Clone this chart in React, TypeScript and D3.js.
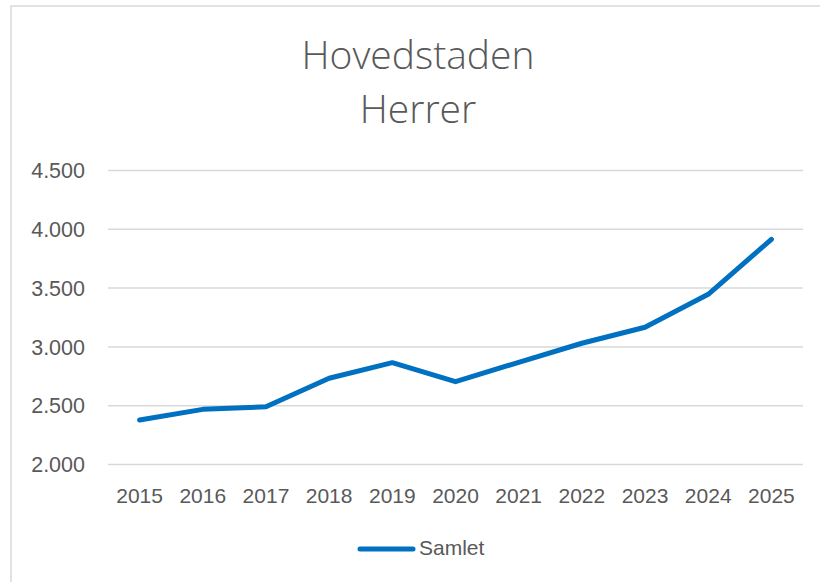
import React from "react";
import * as d3 from "d3";

const years = ["2015", "2016", "2017", "2018", "2019", "2020", "2021", "2022", "2023", "2024", "2025"];
const samlet = [2378, 2469, 2491, 2733, 2866, 2704, 2869, 3031, 3167, 3447, 3915];
const yTicks = [2000, 2500, 3000, 3500, 4000, 4500];
const titleLines = ["Hovedstaden", "Herrer"];
const seriesName = "Samlet";

const W = 820;
const H = 582;
const plot = { left: 108, right: 803, top: 170.5, bottom: 464.5 };

export default function App() {
  const x = d3.scaleBand<string>().domain(years).range([plot.left, plot.right]);
  const y = d3.scaleLinear().domain([2000, 4500]).range([plot.bottom, plot.top]);
  const line = d3
    .line<number>()
    .x((_, i) => (x(years[i]) as number) + x.bandwidth() / 2)
    .y((d) => y(d))
    .curve(d3.curveLinear);
  const fmt = (v: number) => d3.format(",")(v).replace(/,/g, ".");
  const axisFont = "'Liberation Sans', Arial, sans-serif";
  const textColor = "#595959";

  return (
    <div style={{ position: "absolute", left: 0, top: 0 }}>
      <svg width={W} height={H} style={{ display: "block", background: "#fff" }}>
        <rect x={11} y={6} width={W} height={H} fill="#fff" stroke="#d9d9d9" strokeWidth={1.5} />
        {titleLines.map((t, i) => (
          <text
            key={t}
            x={418}
            y={69 + i * 54}
            textAnchor="middle"
            fontFamily="'Open Sans', sans-serif"
            fontWeight={300}
            fontSize={39}
            fill={textColor}
          >
            {t}
          </text>
        ))}
        {yTicks.map((t) => (
          <g key={t}>
            <line x1={plot.left} x2={plot.right} y1={y(t)} y2={y(t)} stroke="#d9d9d9" strokeWidth={1.5} />
            <text
              x={85}
              y={y(t)}
              dy="0.36em"
              textAnchor="end"
              fontFamily={axisFont}
              fontSize={21.5}
              fill={textColor}
            >
              {fmt(t)}
            </text>
          </g>
        ))}
        {years.map((yr) => (
          <text
            key={yr}
            x={(x(yr) as number) + x.bandwidth() / 2}
            y={503}
            textAnchor="middle"
            fontFamily={axisFont}
            fontSize={21}
            fill={textColor}
          >
            {yr}
          </text>
        ))}
        <path
          d={line(samlet) || ""}
          fill="none"
          stroke="#0070C0"
          strokeWidth={5}
          strokeLinejoin="round"
          strokeLinecap="round"
        />
        <line x1={360} x2={413} y1={549} y2={549} stroke="#0070C0" strokeWidth={5} strokeLinecap="round" />
        <text x={419} y={555} fontFamily={axisFont} fontSize={21} fill={textColor}>
          {seriesName}
        </text>
      </svg>
    </div>
  );
}
